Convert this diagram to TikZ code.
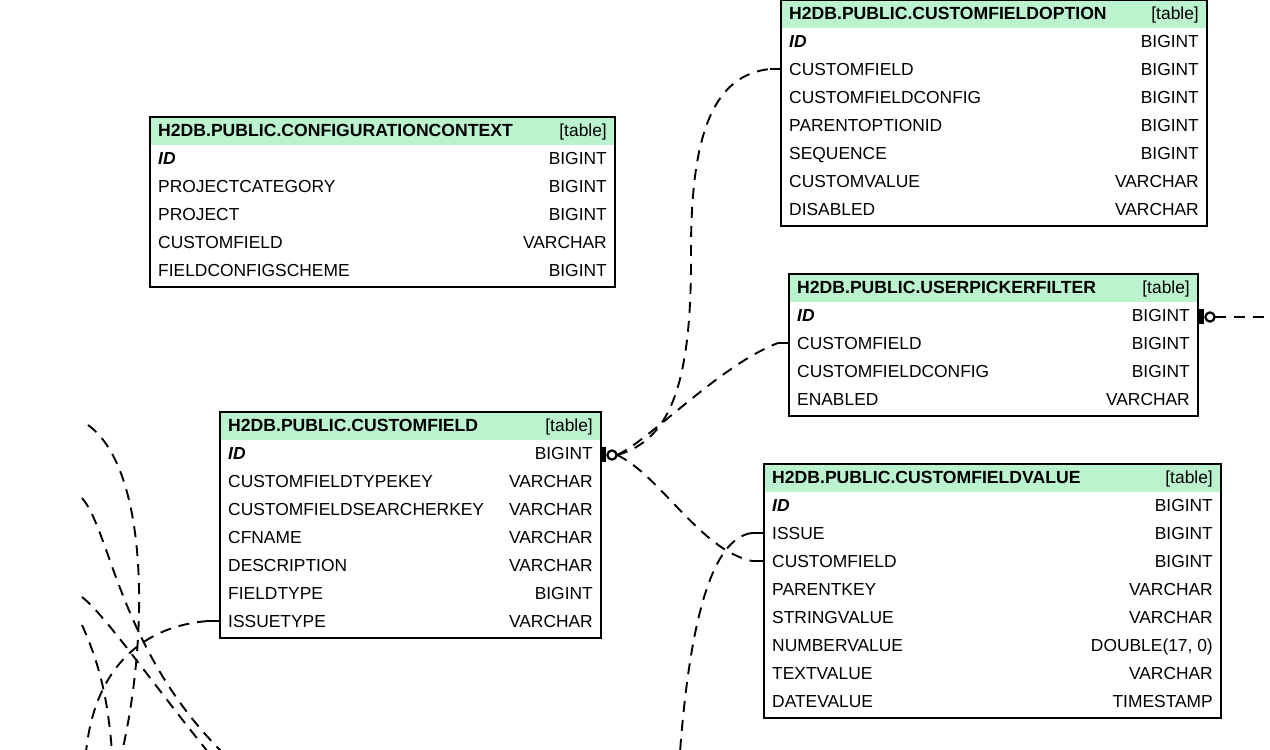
\documentclass[tikz,border=0pt]{standalone}
\usepackage{fontspec}
\setmainfont{Liberation Sans}
\definecolor{hdrgreen}{RGB}{187,243,207}
\tikzset{
  boxline/.style={draw=black, line width=2pt, fill=white},
  hdrfill/.style={fill=hdrgreen},
  hdrtxt/.style={inner sep=0pt, font=\fontsize{17.6}{20}\selectfont\bfseries},
  celltxt/.style={inner sep=0pt, font=\fontsize{17.4}{20}\selectfont},
  rel/.style={line width=1.9pt, dash pattern=on 11pt off 8pt},
  stubline/.style={line width=1.9pt},
  pkbar/.style={fill=black},
  pkring/.style={draw=black, line width=2.2pt, fill=white},
}
% #1 id, #2 left, #3 right, #4 top, #5 nrows, #6 title, #7 rows
\newcommand\erbox[7]{%
  \pgfmathsetmacro\erbot{#4+41+28*(#5-1)+17}
  \draw[boxline] (#2,#4) rectangle (#3,\erbot);
  \fill[hdrfill] (#2+1,#4+1) rectangle (#3-1,#4+28);
  \draw[draw=black, line width=2pt] (#2,#4) rectangle (#3,\erbot);
  \node[hdrtxt, anchor=base west] (#1-title) at (#2+8,#4+19) {#6};
  \node[celltxt, anchor=base east] (#1-tag) at (#3-8,#4+19) {[table]};
  \foreach \rowname/\rowtype [count=\i from 0] in {#7} {
    \pgfmathsetmacro\ry{#4+41+28*\i}
    \coordinate (#1-r\i-w) at (#2,\ry);
    \coordinate (#1-r\i-e) at (#3,\ry);
    \node[celltxt, anchor=base west] (#1-n\i) at (#2+8,\ry+6) {\rowname};
    \node[celltxt, anchor=base east] (#1-t\i) at (#3-8,\ry+6) {\rowtype};
  }
}
\begin{document}
\begin{tikzpicture}[x=1pt,y=-1pt]
\useasboundingbox (0,0) rectangle (1270,750);

\erbox{cfo}{781}{1207}{0}{7}{H2DB.PUBLIC.CUSTOMFIELDOPTION}{
  {\bfseries\itshape ID}/BIGINT, CUSTOMFIELD/BIGINT, CUSTOMFIELDCONFIG/BIGINT,
  PARENTOPTIONID/BIGINT, SEQUENCE/BIGINT, CUSTOMVALUE/VARCHAR, DISABLED/VARCHAR}

\erbox{cc}{150}{615}{117}{5}{H2DB.PUBLIC.CONFIGURATIONCONTEXT}{
  {\bfseries\itshape ID}/BIGINT, PROJECTCATEGORY/BIGINT, PROJECT/BIGINT,
  CUSTOMFIELD/VARCHAR, FIELDCONFIGSCHEME/BIGINT}

\erbox{upf}{789}{1198}{274}{4}{H2DB.PUBLIC.USERPICKERFILTER}{
  {\bfseries\itshape ID}/BIGINT, CUSTOMFIELD/BIGINT, CUSTOMFIELDCONFIG/BIGINT,
  ENABLED/VARCHAR}

\erbox{cf}{220}{601}{412}{7}{H2DB.PUBLIC.CUSTOMFIELD}{
  {\bfseries\itshape ID}/BIGINT, CUSTOMFIELDTYPEKEY/VARCHAR,
  CUSTOMFIELDSEARCHERKEY/VARCHAR, CFNAME/VARCHAR, DESCRIPTION/VARCHAR,
  FIELDTYPE/BIGINT, ISSUETYPE/VARCHAR}

\erbox{cfv}{764}{1221}{464}{8}{H2DB.PUBLIC.CUSTOMFIELDVALUE}{
  {\bfseries\itshape ID}/BIGINT, ISSUE/BIGINT, CUSTOMFIELD/BIGINT,
  PARENTKEY/VARCHAR, STRINGVALUE/VARCHAR, {NUMBERVALUE}/{DOUBLE(17, 0)},
  TEXTVALUE/VARCHAR, DATEVALUE/TIMESTAMP}

% stubs at foreign-key rows
\draw[stubline] (cfo-r1-w) -- ++(-11,0) coordinate (cfo-s1);
\draw[stubline] (upf-r1-w) -- ++(-11,0) coordinate (upf-s1);
\draw[stubline] (cfv-r1-w) -- ++(-12,0) coordinate (cfv-s1);
\draw[stubline] (cfv-r2-w) -- ++(-12,0) coordinate (cfv-s2);
\draw[stubline] (cf-r6-w) -- ++(-12,0) coordinate (cf-s6);

% primary-key ends
\fill[pkbar] (cf-r0-e) ++(0,-6) rectangle ++(5,15);
\draw[pkring] (cf-r0-e) ++(11,2) circle[radius=4.6pt];
\path (cf-r0-e) ++(16,2) coordinate (cf-pk);
\fill[pkbar] (upf-r0-e) ++(1,-6) rectangle ++(5,15);
\draw[pkring] (upf-r0-e) ++(12,2) circle[radius=4.6pt];
\path (upf-r0-e) ++(17,2) coordinate (upf-pk);

% free ends
\coordinate (upf-free) at (1272,317);
\coordinate (cfv-free) at (680,752);
\coordinate (la-s) at (88,425);  \coordinate (la-e) at (122,752);
\coordinate (lb-s) at (82,498);  \coordinate (lb-e) at (222,752);
\coordinate (lc-s) at (82,597);  \coordinate (lc-e) at (208,752);
\coordinate (ld-s) at (82,625);  \coordinate (ld-e) at (112,752);
\coordinate (le-e) at (86,752);

% connectors
\draw[rel] (cf-pk) .. controls (672,440) and (692,380) .. (691,250)
                   .. controls (691,130) and (715,75) .. (cfo-s1);
\draw[rel] (cf-pk) .. controls (650,440) and (720,365) .. (upf-s1);
\draw[rel] (cf-pk) .. controls (660,475) and (700,550) .. (cfv-s2);
\draw[rel] (cfv-s1) .. controls (712,538) and (690,620) .. (cfv-free);
\draw[rel] (upf-pk) -- (upf-free);
\draw[rel] (cf-s6) .. controls (145,626) and (95,665) .. (le-e);
\draw[rel] (la-s) .. controls (150,470) and (148,640) .. (la-e);
\draw[rel] (lb-s) .. controls (110,530) and (120,650) .. (lb-e);
\draw[rel] (lc-s) .. controls (105,615) and (150,680) .. (lc-e);
\draw[rel] (ld-s) .. controls (100,665) and (108,700) .. (ld-e);
\end{tikzpicture}
\end{document}
